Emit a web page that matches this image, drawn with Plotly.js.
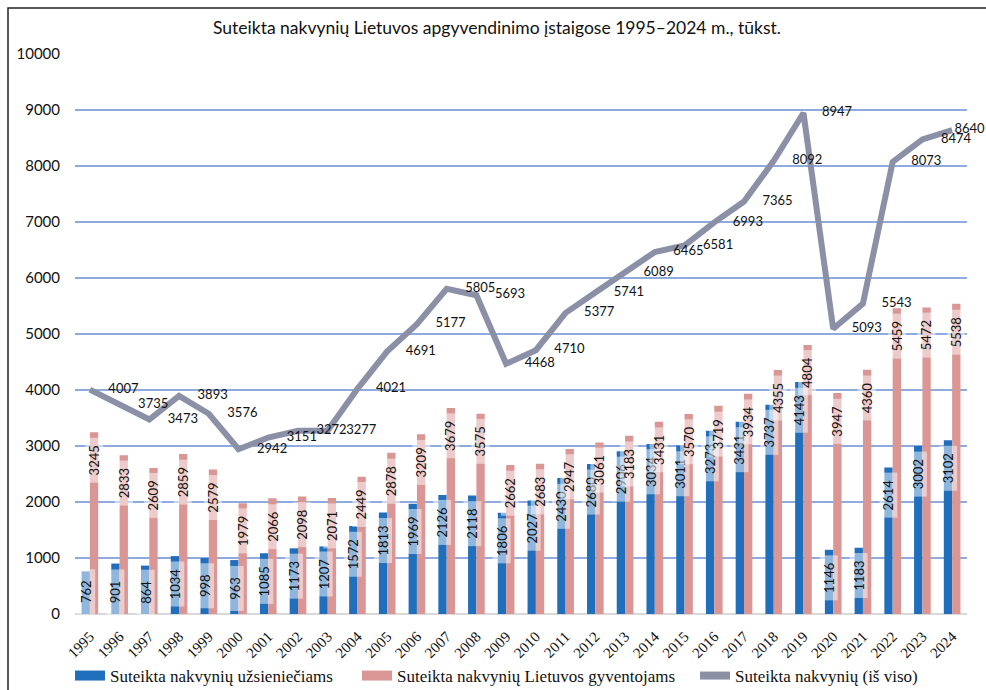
<!DOCTYPE html>
<html>
<head>
<meta charset="utf-8">
<script src="https://cdn.plot.ly/plotly-3.0.1.min.js"></script>
<style>
html,body{margin:0;padding:0;background:#fff;}
#chart{width:986px;height:690px;}
</style>
</head>
<body>
<div id="chart"></div>
<script>
// ---- DATA ----
var years = ["1995","1996","1997","1998","1999","2000","2001","2002","2003","2004","2005","2006","2007","2008","2009","2010","2011","2012","2013","2014","2015","2016","2017","2018","2019","2020","2021","2022","2023","2024"];
var foreigners = [762,901,864,1034,998,963,1085,1173,1207,1572,1813,1969,2126,2118,1806,2027,2430,2680,2906,3034,3011,3273,3431,3737,4143,1146,1183,2614,3002,3102];
var residents = [3245,2833,2609,2859,2579,1979,2066,2098,2071,2449,2878,3209,3679,3575,2662,2683,2947,3061,3183,3431,3570,3719,3934,4355,4804,3947,4360,5459,5472,5538];
var totals = [4007,3735,3473,3893,3576,2942,3151,3272,3277,4021,4691,5177,5805,5693,4468,4710,5377,5741,6089,6465,6581,6993,7365,8092,8947,5093,5543,8073,8474,8640];

var seriesNames = ["Suteikta nakvynių užsieniečiams","Suteikta nakvynių Lietuvos gyventojams","Suteikta nakvynių (iš viso)"];
var titleText = "Suteikta nakvynių Lietuvos apgyvendinimo įstaigose 1995–2024 m., tūkst.";

// ---- STYLE ----
var W = 986, H = 690;
var M = {l:75, r:19, t:54, b:76};
var yMax = 10000;
var blue = "#1f6fbd", pink = "#d99694", lineCol = "#8c90a7";
var bargap = 0.44;
var plotH = H - M.t - M.b, plotW = W - M.l - M.r;
var pxPerUnit = plotH / yMax;
var barW = (1 - bargap) / 2;
var fx = function(px){ return (px - M.l) / plotW; };
var fy = function(py){ return (H - M.b - py) / plotH; };

// text offset helper markers (last label sits tight against its point)
var markerSizes = totals.map(function(v, i){ return i === totals.length - 1 ? 2 : 28; });

var traces = [
  {type:"bar", x:years, y:foreigners, marker:{color:blue}, showlegend:false, hoverinfo:"x+y", name:seriesNames[0]},
  {type:"bar", x:years, y:residents, marker:{color:pink}, showlegend:false, hoverinfo:"x+y", name:seriesNames[1]},
  {type:"scatter", mode:"lines+markers+text", x:years, y:totals, name:seriesNames[2],
   line:{color:lineCol, width:6}, marker:{size:markerSizes, opacity:0, color:lineCol},
   text:totals.map(String), textposition:"middle right", cliponaxis:false,
   textfont:{family:"Lato, sans-serif", size:13, color:"#111"}, showlegend:false},
  // legend entries
  {type:"scatter", mode:"lines", x:[null], y:[null], name:seriesNames[0], line:{color:blue, width:10}, legend:"legend"},
  {type:"scatter", mode:"lines", x:[null], y:[null], name:seriesNames[1], line:{color:pink, width:10}, legend:"legend2"},
  {type:"scatter", mode:"lines", x:[null], y:[null], name:seriesNames[2], line:{color:lineCol, width:8}, legend:"legend3"}
];

function labelAnn(i, v, offset) {
  var ypx = v * pxPerUnit;
  var shift = -Math.min(28, ypx - 22);
  return {
    x: i + offset, y: v, xref:"x", yref:"y", text:String(v), showarrow:false,
    textangle:-90, width:44, height:17, borderpad:0,
    bgcolor:"rgba(255,255,255,0.5)", yanchor:"middle", xanchor:"center",
    yshift: shift, font:{family:"Lato, sans-serif", size:13, color:"#111"}
  };
}
var anns = [];
foreigners.forEach(function(v,i){ anns.push(labelAnn(i, v, -barW/2)); });
residents.forEach(function(v,i){ anns.push(labelAnn(i, v, barW/2)); });

// frame (top and left edges)
var shapes = [{
  type:"path", xref:"paper", yref:"paper",
  path:"M " + fx(8) + " " + fy(H+2) + " L " + fx(8) + " " + fy(8) + " L " + fx(W+2) + " " + fy(8),
  line:{color:"#222", width:1.5}
}];

function legendAt(px) {
  return {orientation:"h", x:fx(px), xanchor:"left", y:fy(676), yanchor:"middle",
          font:{family:"Liberation Serif, serif", size:17, color:"#111"}, itemwidth:30,
          bgcolor:"rgba(0,0,0,0)"};
}

var layout = {
  width:W, height:H, margin:{l:M.l, r:M.r, t:M.t, b:M.b, pad:0, autoexpand:false},
  paper_bgcolor:"#fff", plot_bgcolor:"#fff",
  title:{text:titleText, x:0.504, xanchor:"center", y:1-28/H, yanchor:"middle", yref:"container",
         font:{family:"Lato, sans-serif", size:17.5, color:"#111"}},
  barmode:"group", bargap:bargap, bargroupgap:0,
  xaxis:{type:"category", range:[-0.5, years.length-0.5], tickangle:-45, showgrid:false, zeroline:false, showline:false, ticks:"",
         ticklabelstandoff:10, tickfont:{family:"Liberation Serif, serif", size:15, color:"#111"}},
  yaxis:{range:[0,yMax], dtick:1000, tickformat:"d", gridcolor:"#8faadc", gridwidth:1.5, zeroline:true,
         zerolinecolor:"#d9d9d9", zerolinewidth:1.5, showline:false, ticks:"", ticklabelstandoff:14,
         tickfont:{family:"Lato, sans-serif", size:15, color:"#111"}},
  legend:legendAt(70), legend2:legendAt(357), legend3:legendAt(695),
  annotations:anns, shapes:shapes, showlegend:true
};

Plotly.newPlot("chart", traces, layout, {displayModeBar:false, staticPlot:true});
</script>
</body>
</html>
